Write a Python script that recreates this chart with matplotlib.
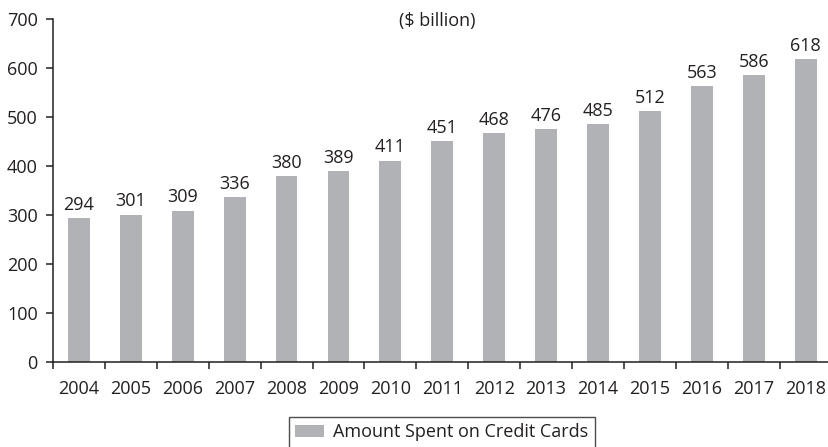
import matplotlib

matplotlib.use("Agg")
import matplotlib.pyplot as plt
from matplotlib.ticker import FixedLocator

plt.rcParams["font.family"] = ["Open Sans", "DejaVu Sans"]

# Data.
years = ["2004", "2005", "2006", "2007", "2008", "2009", "2010", "2011",
         "2012", "2013", "2014", "2015", "2016", "2017", "2018"]
amounts = [294, 301, 309, 336, 380, 389, 411, 451, 468, 476, 485, 512, 563, 586, 618]
series_name = "Amount Spent on Credit Cards"
unit_label = "($ billion)"

TEXT = "#231f20"
BAR = "#b1b2b5"
FS = 13

fig = plt.figure(figsize=(8.29, 4.47), dpi=100)
ax = fig.add_axes([53 / 829, 85 / 447, 1 - 53 / 829, 343 / 447])

x = list(range(len(years)))
bars = ax.bar(x, amounts, width=0.42, color=BAR, label=series_name)
ax.bar_label(bars, labels=[str(v) for v in amounts], padding=3,
             fontsize=FS, color=TEXT)

ax.set_xlim(-0.5, 14.45)
ax.set_ylim(0, 700)
ax.set_yticks(range(0, 701, 100))

# Category labels at centres, tick marks at the boundaries between them.
ax.set_xticks(x)
ax.set_xticklabels(years)
ax.xaxis.set_minor_locator(FixedLocator([i - 0.5 for i in range(len(years))]))
ax.tick_params(axis="x", which="major", length=0, pad=13, labelsize=FS, colors=TEXT)
ax.tick_params(axis="x", which="minor", length=5, width=1.1, color=TEXT)
ax.tick_params(axis="y", length=5, width=1.1, pad=6, labelsize=FS, colors=TEXT)

for side in ("top", "right"):
    ax.spines[side].set_visible(False)
for side in ("left", "bottom"):
    ax.spines[side].set_color(TEXT)
    ax.spines[side].set_linewidth(1.1)

fig.text(437 / 829, 1 - 21 / 447, unit_label, ha="center", va="center",
         fontsize=FS, color=TEXT)

leg = fig.legend(loc="upper center", bbox_to_anchor=(442 / 829, 1 - 417 / 447),
                 borderaxespad=0, frameon=True, fancybox=False, fontsize=FS,
                 handlelength=1.6, handleheight=0.7, borderpad=0.35,
                 handletextpad=0.5)
leg.get_frame().set_edgecolor(TEXT)
leg.get_frame().set_linewidth(1.0)
for t in leg.get_texts():
    t.set_color(TEXT)

fig.savefig("out.png", dpi=100)
plt.close(fig)
